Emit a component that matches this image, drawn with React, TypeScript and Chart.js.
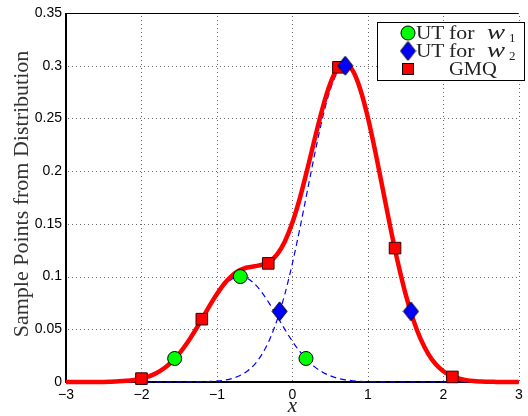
import React, { useEffect, useRef } from "react";
import { Chart, registerables } from "chart.js";

Chart.register(...registerables);

// ---- data ----
const xGrid = [
  -3.0, -2.9, -2.8, -2.7, -2.6, -2.5, -2.4, -2.3, -2.2, -2.1,
  -2.0, -1.9, -1.8, -1.7, -1.6, -1.5, -1.4, -1.3, -1.2, -1.1,
  -1.0, -0.9, -0.8, -0.7, -0.6, -0.5, -0.4, -0.3, -0.2, -0.1,
  0.0, 0.1, 0.2, 0.3, 0.4, 0.5, 0.6, 0.7, 0.8, 0.9,
  1.0, 1.1, 1.2, 1.3, 1.4, 1.5, 1.6, 1.7, 1.8, 1.9,
  2.0, 2.1, 2.2, 2.3, 2.4, 2.5, 2.6, 2.7, 2.8, 2.9, 3.0,
];

const component1 = [
  0, 0, 0, 0, 0.0001, 0.0001, 0.0003, 0.0006, 0.0011, 0.0019,
  0.0032, 0.0054, 0.0085, 0.013, 0.0191, 0.0269, 0.0365, 0.0475, 0.0594, 0.0715,
  0.0825, 0.0916, 0.0976, 0.1, 0.0984, 0.093, 0.0845, 0.0738, 0.0619, 0.0499,
  0.0386, 0.0287, 0.0205, 0.0141, 0.0093, 0.0059, 0.0036, 0.0021, 0.0012, 0.0006,
  0.0003, 0.0002, 0.0001, 0, 0, 0, 0, 0, 0, 0,
  0, 0, 0, 0, 0, 0, 0, 0, 0, 0, 0,
];

const component2 = [
  0, 0, 0, 0, 0, 0, 0, 0, 0, 0,
  0, 0, 0, 0, 0, 0, 0, 0.0001, 0.0002, 0.0005,
  0.0009, 0.0018, 0.0033, 0.0059, 0.0102, 0.0168, 0.0267, 0.0406, 0.0594, 0.0834,
  0.1126, 0.146, 0.182, 0.2178, 0.2506, 0.2769, 0.2941, 0.3, 0.2941, 0.2769,
  0.2506, 0.2178, 0.182, 0.146, 0.1126, 0.0834, 0.0594, 0.0406, 0.0267, 0.0168,
  0.0102, 0.0059, 0.0033, 0.0018, 0.0009, 0.0005, 0.0002, 0.0001, 0, 0, 0,
];

const mixture = [
  0, 0, 0, 0, 0.0001, 0.0001, 0.0003, 0.0006, 0.0011, 0.0019,
  0.0032, 0.0054, 0.0085, 0.013, 0.0191, 0.0269, 0.0365, 0.0476, 0.0596, 0.072,
  0.0834, 0.0934, 0.1009, 0.1059, 0.1086, 0.1098, 0.1112, 0.1144, 0.1213, 0.1333,
  0.1512, 0.1747, 0.2025, 0.2319, 0.2599, 0.2828, 0.2977, 0.3021, 0.2953, 0.2775,
  0.2509, 0.218, 0.1821, 0.146, 0.1126, 0.0834, 0.0594, 0.0406, 0.0267, 0.0168,
  0.0102, 0.0059, 0.0033, 0.0018, 0.0009, 0.0005, 0.0002, 0.0001, 0, 0, 0,
];

const ut1X = [-1.56, -0.69, 0.18];
const ut1Y = [0.0223, 0.1, 0.0223];
const ut2X = [-0.17, 0.7, 1.57];
const ut2Y = [0.067, 0.3, 0.067];
const gmqX = [-2.0, -1.2, -0.32, 0.61, 1.36, 2.12];
const gmqY = [0.0032, 0.0596, 0.1125, 0.2985, 0.127, 0.0048];

const xTickValues = [-3, -2, -1, 0, 1, 2, 3];
const xTickLabels = ["\u22123", "\u22122", "\u22121", "0", "1", "2", "3"];
const yTickValues = [0, 0.05, 0.1, 0.15, 0.2, 0.25, 0.3, 0.35];
const yTickLabels = ["0", "0.05", "0.1", "0.15", "0.2", "0.25", "0.3", "0.35"];

const legendPrefix = ["UT", "UT", ""];
const legendWord = ["for", "for", "GMQ"];
const legendSymbol = ["w", "w", ""];
const legendSub = ["1", "2", ""];

const yTitle = "Sample Points from Distribution";
const xTitle = "x";

const SERIF = "'Liberation Serif', 'Times New Roman', serif";
const SANS = "'Liberation Sans', Arial, sans-serif";

function makeDiamond(): HTMLCanvasElement {
  const c = document.createElement("canvas");
  c.width = 17;
  c.height = 21;
  const g = c.getContext("2d")!;
  g.beginPath();
  g.moveTo(8.5, 1);
  g.lineTo(16, 10.5);
  g.lineTo(8.5, 20);
  g.lineTo(1, 10.5);
  g.closePath();
  g.fillStyle = "#0000ff";
  g.fill();
  g.lineWidth = 1;
  g.strokeStyle = "#000";
  g.stroke();
  return c;
}

function pts(xs: number[], ys: number[]) {
  return xs.map((x, i) => ({ x, y: ys[i] }));
}

export default function App() {
  const ref = useRef<HTMLCanvasElement | null>(null);

  useEffect(() => {
    if (!ref.current) return;
    const diamond = makeDiamond();

    const stretchText = (ctx: any, text: string, x: number, y: number, sx: number) => {
      ctx.save();
      ctx.translate(x, y);
      ctx.scale(sx, 1);
      ctx.fillText(text, 0, 0);
      ctx.restore();
    };

    const framePlugin = {
      id: "frame",
      beforeDatasetsDraw(chart: any) {
        const { ctx, chartArea, scales } = chart;
        const { left, right, top, bottom } = chartArea;
        ctx.save();
        // dotted grid (drawn as single-pixel dots)
        ctx.fillStyle = "#666";
        for (const v of xTickValues) {
          const px = Math.round(scales.x.getPixelForValue(v));
          for (let y = bottom - 2; y > top; y -= 4) ctx.fillRect(px, y, 1, 1);
        }
        for (const v of yTickValues) {
          const py = Math.round(scales.y.getPixelForValue(v));
          for (let x = left + 2; x < right; x += 4) ctx.fillRect(x, py, 1, 1);
        }
        // frame
        ctx.strokeStyle = "#000";
        ctx.lineWidth = 1;
        ctx.beginPath();
        ctx.moveTo(left, top + 0.5);
        ctx.lineTo(right, top + 0.5);
        ctx.stroke();
        ctx.lineWidth = 2;
        ctx.beginPath();
        ctx.moveTo(left, top);
        ctx.lineTo(left, bottom);
        ctx.lineTo(right, bottom);
        ctx.stroke();
        ctx.restore();
      },
      afterDraw(chart: any) {
        const { ctx, chartArea, scales } = chart;
        ctx.save();
        // y title
        ctx.fillStyle = "#333";
        ctx.font = `22px ${SERIF}`;
        ctx.textAlign = "center";
        ctx.textBaseline = "middle";
        ctx.save();
        ctx.translate(22, 194);
        ctx.rotate(-Math.PI / 2);
        ctx.fillText(yTitle, 0, 0);
        ctx.restore();
        // x title
        ctx.fillStyle = "#222";
        ctx.font = `italic 21px ${SERIF}`;
        ctx.textBaseline = "alphabetic";
        ctx.fillText(xTitle, scales.x.getPixelForValue(0), 412);
        ctx.textAlign = "left";
        // legend box
        const bx = 377.5, by = 22.5, bw = 147, bh = 58;
        ctx.fillStyle = "#fff";
        ctx.fillRect(bx, by, bw, bh);
        ctx.strokeStyle = "#000";
        ctx.lineWidth = 1;
        ctx.strokeRect(bx, by, bw, bh);
        const rows = [33, 51, 69];
        const mx = 408;
        // circle
        ctx.beginPath();
        ctx.arc(mx, rows[0], 7, 0, Math.PI * 2);
        ctx.fillStyle = "#00ff00";
        ctx.fill();
        ctx.strokeStyle = "#000";
        ctx.stroke();
        // diamond
        ctx.drawImage(diamond, mx - diamond.width / 2, rows[1] - diamond.height / 2);
        // square
        ctx.fillStyle = "#ff0000";
        ctx.fillRect(mx - 5.5, rows[2] - 5.5, 11, 11);
        ctx.strokeRect(mx - 5.5, rows[2] - 5.5, 11, 11);
        // texts
        ctx.fillStyle = "#222";
        for (let i = 0; i < 3; i++) {
          const base = rows[i] + 6;
          ctx.font = `19px ${SERIF}`;
          if (legendPrefix[i]) stretchText(ctx, legendPrefix[i], 416, base, 1.12);
          stretchText(ctx, legendWord[i], 449, base, i === 2 ? 1.08 : 1.15);
          if (legendSymbol[i]) {
            ctx.font = `italic 20px ${SERIF}`;
            stretchText(ctx, legendSymbol[i], 487, base, 1.35);
            ctx.font = `13px ${SERIF}`;
            ctx.fillText(legendSub[i], 509, base + 3);
          }
        }
        ctx.restore();
      },
    };

    const chart = new Chart(ref.current, {
      type: "line",
      data: {
        datasets: [
          {
            label: "UT for w2",
            data: pts(ut2X, ut2Y),
            showLine: false,
            pointStyle: diamond as any,
            pointRadius: 8,
            clip: false as any,
          },
          {
            label: "UT for w1",
            data: pts(ut1X, ut1Y),
            showLine: false,
            pointStyle: "circle",
            pointRadius: 7,
            pointBackgroundColor: "#00ff00",
            pointBorderColor: "#000",
            pointBorderWidth: 1,
            clip: false as any,
          },
          {
            label: "GMQ",
            data: pts(gmqX, gmqY),
            showLine: false,
            pointStyle: "rect",
            pointRadius: 8.2,
            pointBackgroundColor: "#ff0000",
            pointBorderColor: "#300",
            pointBorderWidth: 1,
            clip: false as any,
          },
          {
            label: "mixture",
            data: pts(xGrid, mixture),
            borderColor: "#ff0000",
            borderWidth: 4.5,
            pointRadius: 0,
            cubicInterpolationMode: "monotone",
            fill: false,
            clip: false as any,
          },
          {
            label: "component 1",
            data: pts(xGrid, component1),
            borderColor: "#0000ff",
            borderWidth: 1.2,
            borderDash: [6, 4],
            pointRadius: 0,
            cubicInterpolationMode: "monotone",
            fill: false,
            clip: false as any,
          },
          {
            label: "component 2",
            data: pts(xGrid, component2),
            borderColor: "#0000ff",
            borderWidth: 1.2,
            borderDash: [6, 4],
            pointRadius: 0,
            cubicInterpolationMode: "monotone",
            fill: false,
            clip: false as any,
          },
        ],
      },
      options: {
        responsive: false,
        animation: false,
        devicePixelRatio: 1,
        layout: { padding: { top: 13, right: 1, left: 0, bottom: 0 } },
        plugins: { legend: { display: false }, tooltip: { enabled: false } },
        scales: {
          x: {
            type: "linear",
            min: -3,
            max: 3,
            afterFit: (s: any) => {
              s.height = 34;
            },
            ticks: {
              stepSize: 1,
              autoSkip: false,
              maxRotation: 0,
              padding: 5,
              color: "#000",
              font: { family: SANS, size: 14 },
              callback: (v: any) => xTickLabels[xTickValues.indexOf(Math.round(Number(v)))],
            },
            grid: { display: false, drawTicks: false },
            border: { display: false },
          },
          y: {
            type: "linear",
            min: 0,
            max: 0.35,
            afterFit: (s: any) => {
              s.width = 66;
            },
            ticks: {
              stepSize: 0.05,
              autoSkip: false,
              padding: 4,
              color: "#000",
              font: { family: SANS, size: 14 },
              callback: (v: any) => yTickLabels[Math.round(Number(v) / 0.05)],
            },
            grid: { display: false, drawTicks: false },
            border: { display: false },
          },
        },
      },
      plugins: [framePlugin],
    });

    return () => chart.destroy();
  }, []);

  return (
    <div style={{ position: "absolute", left: 0, top: 0, width: 528, height: 416 }}>
      <canvas ref={ref} width={528} height={416} />
    </div>
  );
}
